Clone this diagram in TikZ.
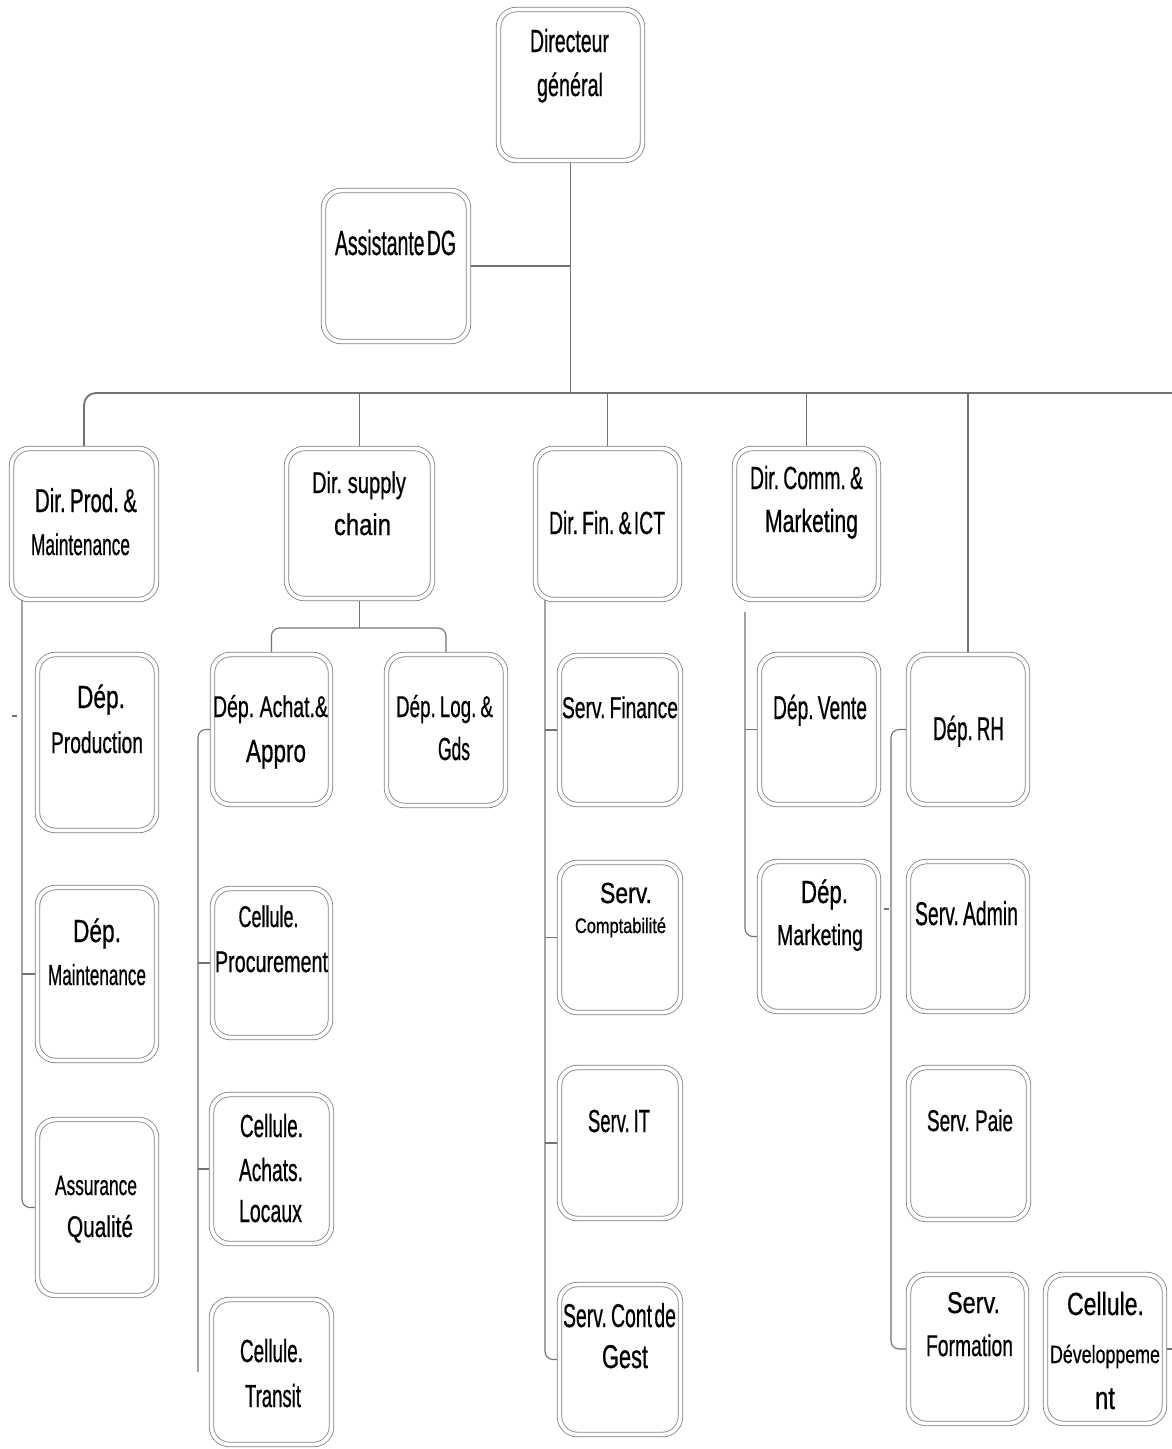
\documentclass[tikz,border=0pt]{standalone}
\usepackage{fontspec}
\setmainfont{Liberation Sans}[UprightFeatures={FakeBold=0.8}]
\usepackage{graphicx}
\usetikzlibrary{calc}
\pgfdeclarelayer{bg}
\pgfsetlayers{bg,main}
\definecolor{wire}{RGB}{108,118,112}
\definecolor{frame}{RGB}{128,128,128}
% one line of text: font size, forced width, text (tight word spaces)
\newcommand\ftx[3]{\fontsize{#1pt}{#1pt}\selectfont\spaceskip=0.12em\relax\resizebox{#2pt}{\height}{#3}}
% a normal word space inside a tight line
\newcommand\wsp{\hspace{0.28em}}
% box from its outer edges: name, left, right, top, bottom
\newcommand\orgbox[5]{\node[unitbox, minimum width={#3-#2-5}, minimum height={#5-#4-5}] (#1) at ({(#2+#3)/2},{(#4+#5)/2}) {};}
% text line: name, centre x, baseline y, size, width, text
\newcommand\orgtxt[6]{\node[unittxt] (#1) at (#2,#3) {\ftx{#4}{#5}{#6}};}
\tikzset{
  unitbox/.style={draw=frame, line width=0.8pt, double=white, double distance=3.8pt,
    rounded corners=18pt, fill=white, inner sep=0pt, outer sep=0pt},
  unittxt/.style={anchor=base, inner sep=0pt, outer sep=0pt, text=black},
  wireline/.style={draw=wire, line width=1.1pt},
  mainbar/.style={draw=wire, line width=1.8pt},
}
\begin{document}
\begin{tikzpicture}[x=1pt, y=-1pt]
\useasboundingbox (0,0) rectangle (1172,1449);

% ---- boxes ----
\orgbox{dg}{496}{645}{7}{163}
\orgbox{asst}{321}{471}{188}{344}
\orgbox{dprod}{9}{159}{446}{602}
\orgbox{dsup}{284}{435}{446}{601}
\orgbox{dfin}{533}{682}{446}{602}
\orgbox{dcomm}{732}{881}{446}{602}
\orgbox{dprodn}{35}{159}{652}{833}
\orgbox{dmaint}{35}{159}{885}{1063}
\orgbox{aq}{35}{159}{1117}{1298}
\orgbox{dachat}{210}{333}{652}{807}
\orgbox{dlog}{384}{508}{652}{808}
\orgbox{cproc}{210}{333}{886}{1040}
\orgbox{cachat}{209}{334}{1092}{1246}
\orgbox{ctransit}{209}{334}{1297}{1447}
\orgbox{sfin}{557}{683}{653}{807}
\orgbox{scompta}{557}{683}{860}{1015}
\orgbox{sit}{557}{683}{1065}{1221}
\orgbox{scont}{557}{683}{1282}{1437}
\orgbox{dvente}{757}{881}{652}{807}
\orgbox{dmkt}{757}{881}{859}{1014}
\orgbox{drh}{906}{1030}{652}{807}
\orgbox{sadmin}{906}{1030}{859}{1014}
\orgbox{spaie}{906}{1031}{1065}{1222}
\orgbox{sform}{906}{1029}{1272}{1426}
\orgbox{cdev}{1043}{1167}{1272}{1426}

% ---- texts ----
\orgtxt{dg-a}{569.5}{52}{32}{79}{Directeur}
\orgtxt{dg-b}{570}{96}{32}{66}{général}
\orgtxt{asst-a}{395.5}{255}{35}{121}{Assistante DG}
\orgtxt{dprod-a}{86}{512}{33}{102}{Dir. Prod. \&}
\orgtxt{dprod-b}{80.5}{555}{30}{99}{Maintenance}
\orgtxt{dsup-a}{359}{493}{30}{94}{Dir.\wsp supply}
\orgtxt{dsup-b}{362.5}{535}{30}{57}{chain}
\orgtxt{dfin-a}{607}{534}{32}{116}{Dir. Fin. \& ICT}
\orgtxt{dcomm-a}{806.5}{489}{32}{113}{Dir. Comm. \&}
\orgtxt{dcomm-b}{811.5}{532}{32}{93}{Marketing}
\orgtxt{dprodn-a}{101}{708}{32}{48}{Dép.}
\orgtxt{dprodn-b}{97}{753}{30}{92}{Production}
\orgtxt{dmaint-a}{97}{942}{32}{48}{Dép.}
\orgtxt{dmaint-b}{97}{985}{29}{98}{Maintenance}
\orgtxt{aq-a}{96}{1195}{28}{82}{Assurance}
\orgtxt{aq-b}{100}{1237}{30}{66}{Qualité}
\orgtxt{dachat-a}{270.5}{717}{30}{115}{Dép.\wsp Achat.\&}
\orgtxt{dachat-b}{276}{762}{32}{60}{Appro}
\orgtxt{dlog-a}{444.5}{717}{30}{97}{Dép. Log. \&}
\orgtxt{dlog-b}{454}{760}{32}{32}{Gds}
\orgtxt{cproc-a}{268.5}{927}{30}{60}{Cellule.}
\orgtxt{cproc-b}{271.5}{972}{30}{113}{Procurement}
\orgtxt{cachat-a}{271.5}{1137}{32}{63}{Cellule.}
\orgtxt{cachat-b}{271}{1181}{32}{64}{Achats.}
\orgtxt{cachat-c}{270.5}{1222}{32}{63}{Locaux}
\orgtxt{ctransit-a}{271.5}{1362}{32}{63}{Cellule.}
\orgtxt{ctransit-b}{273}{1407}{32}{56}{Transit}
\orgtxt{sfin-a}{620}{718}{30}{116}{Serv. Finance}
\orgtxt{scompta-a}{626}{903}{29}{52}{Serv.}
\orgtxt{scompta-b}{620.5}{933}{21}{91}{Comptabilité}
\orgtxt{sit-a}{619}{1132}{32}{62}{Serv. IT}
\orgtxt{scont-a}{619.5}{1327}{33}{113}{Serv. Cont de}
\orgtxt{scont-b}{625}{1368}{33}{46}{Gest}
\orgtxt{dvente-a}{820}{719}{33}{94}{Dép. Vente}
\orgtxt{dmkt-a}{824.5}{903}{32}{47}{Dép.}
\orgtxt{dmkt-b}{820}{945}{29}{86}{Marketing}
\orgtxt{drh-a}{968.5}{740}{33}{71}{Dép. RH}
\orgtxt{sadmin-a}{966.5}{925}{33}{103}{Serv. Admin}
\orgtxt{spaie-a}{970}{1131}{30}{86}{Serv.\wsp Paie}
\orgtxt{sform-a}{973.5}{1313}{30}{53}{Serv.}
\orgtxt{sform-b}{969.5}{1356}{30}{87}{Formation}
\orgtxt{cdev-a}{1105.5}{1315}{32}{77}{Cellule.}
\orgtxt{cdev-b}{1105}{1363}{25}{110}{Développeme}
\orgtxt{cdev-c}{1105}{1409}{32}{20}{nt}

% ---- connectors ----
\coordinate (barR) at (1172,393);
\coordinate (supbar) at (0,628);
\coordinate (spineP) at (22,0);
\coordinate (spineS) at (198,0);
\coordinate (spineF) at (545,0);
\coordinate (spineC) at (745,612);
\coordinate (spineR) at (891,0);
\coordinate (tickP) at (12,716);
\coordinate (tickR) at (884,909);

\begin{pgfonlayer}{bg}
  \fill[white] (0,0) rectangle (1172,1449);
  % top of the chart
  \draw[wireline] (dg.south) -- (dg.south |- barR);
  \draw[wireline] (asst.east) -- (asst.east -| dg.south);
  \draw[mainbar, rounded corners=12pt] (dprod.north) -- (dprod.north |- barR) -- (barR);
  \draw[wireline] (dsup.north) -- (dsup.north |- barR);
  \draw[wireline] (dfin.north) -- (dfin.north |- barR);
  \draw[wireline] (dcomm.north) -- (dcomm.north |- barR);
  \draw[wireline] (drh.north) -- (drh.north |- barR);

  % production
  \draw[wireline, rounded corners=8pt] (dprod.south -| spineP) |- (aq.west);
  \draw[wireline] (dmaint.west -| spineP) -- (dmaint.west);
  \draw[wireline] (tickP) -- ++(5,0);

  % supply chain
  \draw[wireline] (dsup.south) -- (dsup.south |- supbar);
  \draw[wireline, rounded corners=8pt] (dachat.north) -- (dachat.north |- supbar)
    -- (dlog.north |- supbar) -- (dlog.north);
  \draw[wireline, rounded corners=8pt] (dachat.west) -| (spineS |- ctransit.west);
  \draw[wireline] (cproc.west -| spineS) -- (cproc.west);
  \draw[wireline] (cachat.west -| spineS) -- (cachat.west);

  % finance
  \draw[wireline, rounded corners=8pt] (dfin.south -| spineF) |- (scont.west);
  \draw[wireline] (sfin.west -| spineF) -- (sfin.west);
  \draw[wireline] (scompta.west -| spineF) -- (scompta.west);
  \draw[wireline] (sit.west -| spineF) -- (sit.west);

  % commercial
  \draw[wireline, rounded corners=8pt] (spineC) |- (dmkt.west);
  \draw[wireline] (dvente.west -| spineC) -- (dvente.west);

  % human resources
  \draw[wireline, rounded corners=8pt] (drh.west) -| (spineR |- sform.west) -- (sform.west);
  \draw[wireline] (tickR) -- ++(5,0);
  \draw[wireline] (cdev.east) -- ++(8,0);
\end{pgfonlayer}
\end{tikzpicture}
\end{document}
